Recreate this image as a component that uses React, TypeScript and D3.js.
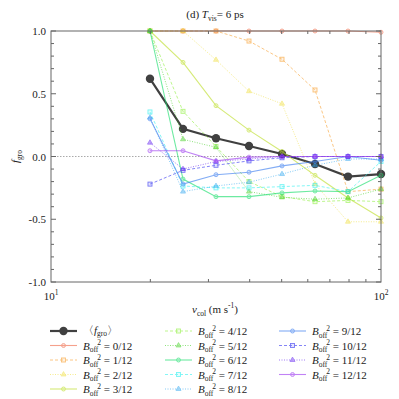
import React from 'react';
import * as d3 from 'd3';

// velocidades de colisión (m/s)
const vcol = [19.95, 25.12, 31.62, 39.81, 50.12, 63.1, 79.43, 100];

// promedio <f_gro>
const meanVals = [0.62, 0.22, 0.145, 0.084, 0.02, -0.06, -0.16, -0.14];

// f_gro para cada B_off^2
const b0 = [1, 1, 1, 1, 1, 1, 1, 0.99];
const b1 = [1, 1, 1, 0.92, 0.775, 0.53, -0.28, -0.26];
const b2 = [1, 1, 0.77, 0.52, 0.42, -0.22, -0.52, -0.52];
const b3 = [1, 0.75, 0.405, 0.21, 0.04, -0.15, -0.33, -0.49];
const b4 = [1, 0.36, 0.08, -0.2, -0.32, -0.36, -0.35, -0.36];
const b5 = [1, 0.137, 0.073, -0.28, -0.325, -0.34, -0.33, -0.26];
const b6 = [1, -0.18, -0.32, -0.32, -0.29, -0.275, -0.28, -0.15];
const b7 = [0.355, -0.235, -0.25, -0.25, -0.24, -0.23, -0.28, -0.04];
const b8 = [0.31, -0.28, -0.235, -0.205, -0.14, -0.07, -0.02, -0.02];
const b9 = [0.3, -0.22, -0.145, -0.125, -0.075, -0.04, 0, -0.03];
const b10 = [-0.22, -0.11, -0.07, -0.035, -0.01, 0, 0, 0];
const b11 = [0.11, -0.1, -0.04, -0.02, 0, 0, 0, 0];
const b12 = [0.046, 0.046, -0.035, -0.005, 0, 0, 0, 0];

const seriesVals = [b0, b1, b2, b3, b4, b5, b6, b7, b8, b9, b10, b11, b12];
const seriesLabels = ['0/12', '1/12', '2/12', '3/12', '4/12', '5/12', '6/12', '7/12', '8/12', '9/12', '10/12', '11/12', '12/12'];
const seriesColors = ['#f07050', '#f8a030', '#f0e040', '#c0e030', '#90f040', '#40d020', '#20e070',
  '#30f0f0', '#30a8f0', '#4080f0', '#3030f0', '#6020f0', '#a040f0'];

const yTicks = [1.0, 0.5, 0.0, -0.5, -1.0];

const W = 399, H = 399;
const margin = { top: 31, right: 18, bottom: 117, left: 51 };
const FONT = "'Liberation Serif', 'Times New Roman', 'DejaVu Serif', serif";
const txt = { fontFamily: FONT };

const styles = ['solid', 'dashed', 'dotted'];
const shapes = ['circle', 'square', 'triangle'];

const dashOf = (s: string) => (s === 'dashed' ? '3,2' : s === 'dotted' ? '1,1.5' : undefined);

const Marker = ({ shape, x, y, color, size = 2 }: any) => {
  if (shape === 'circle') return <circle cx={x} cy={y} r={size} fill={color} fillOpacity={0.3} stroke={color} strokeWidth={0.9} />;
  if (shape === 'square') return <rect x={x - size} y={y - size} width={size * 2} height={size * 2} fill={color} fillOpacity={0.2} stroke={color} strokeWidth={0.9} />;
  const tri = d3.symbol(d3.symbolTriangle, 11)() as string;
  return <path d={tri} transform={`translate(${x},${y})`} fill={color} fillOpacity={0.6} stroke={color} strokeWidth={0.7} />;
};

const BLabel = ({ x, y, value }: any) => (
  <text x={x} y={y} style={txt} fontSize={11} fill="#222">
    <tspan fontStyle="italic">B</tspan>
    <tspan fontSize={7.5} dy={2.5}>off</tspan>
    <tspan fontSize={7.5} dy={-7} dx={-1}>2</tspan>
    <tspan dy={4.5}>{` = ${value}`}</tspan>
  </text>
);

export default function App() {
  const iw = W - margin.left - margin.right;
  const ih = H - margin.top - margin.bottom;

  const x = d3.scaleLog().domain([10, 100]).range([margin.left, margin.left + iw]);
  const y = d3.scaleLinear().domain([-1, 1]).range([margin.top + ih, margin.top]);

  const line = d3.line<number>().x((_, i) => x(vcol[i])).y(d => y(d));

  const minorY = d3.range(-10, 11).map(d => d / 10);
  const minorX = d3.range(20, 100, 10);
  const x0 = margin.left, x1 = margin.left + iw, y0 = margin.top, y1 = margin.top + ih;

  // posiciones de la leyenda
  const rowY = (r: number) => 331 + r * 14.5;
  const cols = [{ lx: 50, tx: 83 }, { lx: 165, tx: 198 }, { lx: 279, tx: 312 }];
  const legendItems: any[] = [{ mean: true }];
  seriesLabels.forEach((l, i) => legendItems.push({ i }));
  const placement = legendItems.map((_, k) => {
    if (k < 5) return { c: 0, r: k };
    if (k < 10) return { c: 1, r: k - 5 };
    return { c: 2, r: k - 10 };
  });

  return (
    <svg width={W} height={H} style={{ position: 'absolute', left: 0, top: 0, background: '#fff' }}>
      {/* título */}
      <text x={215} y={18} textAnchor="middle" style={txt} fontSize={11} fill="#222">
        (d) <tspan fontStyle="italic">T</tspan><tspan fontSize={7.5} dy={3}>vis</tspan><tspan dy={-3}>= 6 ps</tspan>
      </text>

      {/* línea cero */}
      <line x1={x0} x2={x1} y1={y(0)} y2={y(0)} stroke="#aaa" strokeWidth={1} strokeDasharray="1.5,1.5" />

      {/* promedio */}
      <path d={line(meanVals) as string} fill="none" stroke="#404040" strokeWidth={2.2} />
      {meanVals.map((v, i) => (
        <circle key={i} cx={x(vcol[i])} cy={y(v)} r={4.2} fill="#404040" />
      ))}

      {/* series */}
      {seriesVals.map((vals, s) => {
        const c = seriesColors[s];
        const st = styles[s % 3];
        return (
          <g key={s} opacity={0.65}>
            <path d={line(vals) as string} fill="none" stroke={c} strokeWidth={st === 'solid' ? 1.1 : 0.9} strokeDasharray={dashOf(st)} />
            {vals.map((v, i) => (
              <Marker key={i} shape={shapes[s % 3]} x={x(vcol[i])} y={y(v)} color={c} />
            ))}
          </g>
        );
      })}

      {/* marco y ticks */}
      <rect x={x0} y={y0} width={iw} height={ih} fill="none" stroke="#666" strokeWidth={1} />
      {minorY.map(t => {
        const major = Math.abs(t * 2 - Math.round(t * 2)) < 1e-6;
        const len = major ? 5 : 3;
        return (
          <g key={t}>
            <line x1={x0} x2={x0 + len} y1={y(t)} y2={y(t)} stroke="#666" />
            <line x1={x1} x2={x1 - len} y1={y(t)} y2={y(t)} stroke="#666" />
          </g>
        );
      })}
      {minorX.map(t => (
        <g key={t}>
          <line x1={x(t)} x2={x(t)} y1={y1} y2={y1 - 3} stroke="#666" />
          <line x1={x(t)} x2={x(t)} y1={y0} y2={y0 + 3} stroke="#666" />
        </g>
      ))}
      {yTicks.map(t => (
        <text key={t} x={x0 - 5} y={y(t) + 4} textAnchor="end" style={txt} fontSize={11} fill="#222">
          {t.toFixed(1)}
        </text>
      ))}
      {[10, 100].map((t, k) => (
        <text key={t} x={x(t)} y={300} textAnchor="middle" style={txt} fontSize={11} fill="#222">
          10<tspan fontSize={7.5} dy={-5}>{k === 0 ? '1' : '2'}</tspan>
        </text>
      ))}

      {/* etiquetas de ejes */}
      <text x={215} y={313} textAnchor="middle" style={txt} fontSize={11} fill="#222">
        <tspan fontStyle="italic">v</tspan><tspan fontSize={7.5} dy={3}>col</tspan>
        <tspan dy={-3}> (m s</tspan><tspan fontSize={7.5} dy={-5}>-1</tspan><tspan dy={5}>)</tspan>
      </text>
      <text transform={`translate(19,${y(0)}) rotate(-90)`} textAnchor="middle" style={txt} fontSize={11} fill="#222">
        <tspan fontStyle="italic">f</tspan><tspan fontSize={7.5} dy={3}>gro</tspan>
      </text>

      {/* leyenda */}
      {legendItems.map((it, k) => {
        const { c, r } = placement[k];
        const { lx, tx } = cols[c];
        const ly = rowY(r);
        if (it.mean) {
          return (
            <g key="mean">
              <line x1={lx} x2={lx + 27} y1={ly} y2={ly} stroke="#404040" strokeWidth={2.2} />
              <circle cx={lx + 13.5} cy={ly} r={4.2} fill="#404040" />
              <text x={tx} y={ly + 3} style={txt} fontSize={11} fill="#222">
                {'\u3008'}<tspan fontStyle="italic">f</tspan><tspan fontSize={7.5} dy={2}>gro</tspan><tspan dy={-2}>{'\u3009'}</tspan>
              </text>
            </g>
          );
        }
        const s = it.i;
        const col = seriesColors[s];
        const st = styles[s % 3];
        return (
          <g key={s}>
            <g opacity={0.65}>
              <line x1={lx} x2={lx + 27} y1={ly} y2={ly} stroke={col} strokeWidth={st === 'solid' ? 1.1 : 0.9} strokeDasharray={dashOf(st)} />
              <Marker shape={shapes[s % 3]} x={lx + 13.5} y={ly} color={col} />
            </g>
            <BLabel x={tx} y={ly + 4} value={seriesLabels[s]} />
          </g>
        );
      })}
    </svg>
  );
}
